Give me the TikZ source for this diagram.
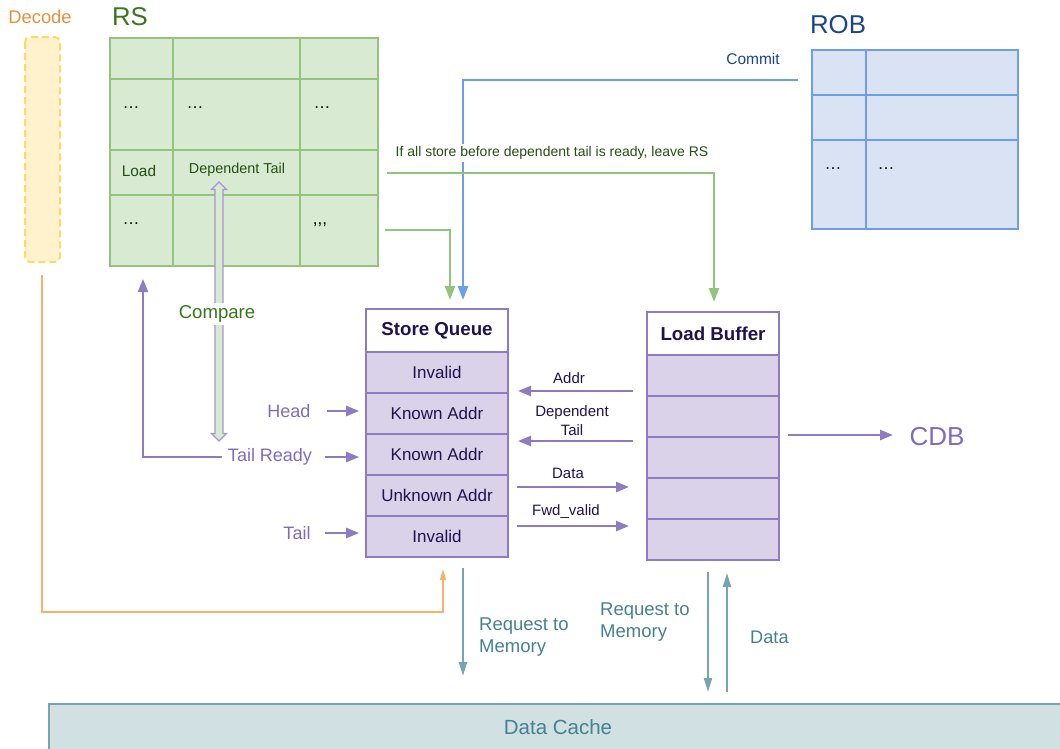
\documentclass[tikz,border=0pt]{standalone}
\usepackage{fontspec}
\setmainfont{Liberation Sans}
\usetikzlibrary{arrows.meta}
\definecolor{pline}{HTML}{8E7CC3}
\definecolor{pfill}{HTML}{D9D2E9}
\definecolor{ptext}{HTML}{20124D}
\definecolor{plabel}{HTML}{7E6BBF}
\definecolor{gfill}{HTML}{D9EAD3}
\definecolor{gline}{HTML}{93C47D}
\definecolor{gtext}{HTML}{274E13}
\definecolor{gtitle}{HTML}{38761D}
\definecolor{bline}{HTML}{6D9EEB}
\definecolor{bfill}{HTML}{DAE3F3}
\definecolor{btext}{HTML}{1C4587}
\definecolor{oline}{HTML}{F6B26B}
\definecolor{otitle}{HTML}{E69138}
\definecolor{ofill}{HTML}{FFF2CC}
\definecolor{oborder}{HTML}{FFD966}
\definecolor{tline}{HTML}{76A5AF}
\definecolor{tfill}{HTML}{D0E0E3}
\definecolor{ttext}{HTML}{45818E}
\tikzset{
  fs/.style={font=\fontsize{#1}{#1}\selectfont},
  sqrow/.style={draw=pline, fill=pfill, line width=1.6pt, minimum width=142pt, minimum height=41pt, inner sep=0pt, text=ptext, fs=17},
  sqhead/.style={draw=pline, fill=white, line width=1.6pt, minimum width=142pt, minimum height=43pt, inner sep=0pt, text=ptext, font=\fontsize{18.7}{18.7}\selectfont\bfseries},
  lbrow/.style={draw=pline, fill=pfill, line width=1.6pt, minimum width=132pt, minimum height=41pt, inner sep=0pt},
  parr/.style={draw=pline, line width=2.5pt, -{Triangle[length=13pt,width=10pt]}},
  garr/.style={draw=gline, line width=2.3pt, -{Triangle[length=14pt,width=10pt]}},
  barr/.style={draw=bline, line width=2.3pt, -{Triangle[length=14pt,width=10pt]}},
  tarr/.style={draw=tline, line width=2.3pt, -{Triangle[length=14pt,width=8pt]}},
  oarr/.style={draw=oline, line width=1.8pt, -{Triangle[length=11pt,width=6pt]}},
  plab/.style={text=plabel, fs=18, inner sep=0pt},
  slab/.style={text=ptext, fs=15, inner sep=0pt},
  dots/.style={anchor=base, fs=17, inner sep=0pt, text=black},
}
\begin{document}
\begin{tikzpicture}[x=1pt,y=-1pt]
\useasboundingbox (0,0) rectangle (1060,748);

% ---------- Decode ----------
\node[text=otitle, fs=18.4, inner sep=0pt] (dectitle) at (40,17) {Decode};
\draw[draw=oborder, fill=ofill, line width=2pt, dash pattern=on 7pt off 4pt, rounded corners=5pt] (25,37) rectangle (60,262);
\coordinate (decout) at (42,275);

% ---------- RS ----------
\node[text=gtitle, fs=25.7, inner sep=0pt] (rstitle) at (130,17) {RS};
\draw[draw=gline, fill=gfill, line width=1.6pt] (110,38) rectangle (378,266);
\draw[draw=gline, line width=1.6pt] (173,38) -- (173,266) (300,38) -- (300,266)
  (110,79) -- (378,79) (110,150) -- (378,150) (110,195) -- (378,195);
\node[dots] (rs21) at (131,108.5) {…};
\node[dots] (rs22) at (195,108.5) {…};
\node[dots] (rs23) at (322,108.5) {…};
\node[text=gtext, fs=15.4, inner sep=0pt] (rsload) at (139,171) {Load};
\node[text=gtext, fs=14.4, inner sep=0pt] (rsdt) at (237,169.5) {Dependent Tail};
\node[dots] (rs41) at (131,224.5) {…};
\node[dots] (rs43) at (320,224.5) {{,}{,}{,}};

% double arrow (compare)
\draw[draw=pline!80, fill=gfill, line width=1.3pt]
  (219,182) -- (226.5,189.5) -- (223,189.5) -- (223,433.5) -- (226.5,433.5) -- (219,441)
  -- (211.5,433.5) -- (215,433.5) -- (215,189.5) -- (211.5,189.5) -- cycle;
\node[text=gtitle, fs=18.6, fill=white, inner sep=3pt] (compare) at (217,314) {Compare};

% ---------- ROB ----------
\node[text=btext, fs=25.8, inner sep=0pt] (robtitle) at (838,25) {ROB};
\draw[draw=bline, fill=bfill, line width=1.6pt] (812,50) rectangle (1018,229);
\draw[draw=bline, line width=1.6pt] (866,50) -- (866,229) (812,95) -- (1018,95) (812,140) -- (1018,140);
\node[dots] (rob31) at (833,169.5) {…};
\node[dots] (rob32) at (886,169.5) {…};
\node[text=btext, fs=15.5, inner sep=0pt] (commit) at (753,59) {Commit};

% ---------- Store Queue ----------
\node[sqhead] (sqh) at (437,330.5) {Store Queue};
\node[sqrow] (sq1) at (437,372.5) {Invalid};
\node[sqrow] (sq2) at (437,413.5) {Known Addr};
\node[sqrow] (sq3) at (437,454.5) {Known Addr};
\node[sqrow] (sq4) at (437,495.5) {Unknown Addr};
\node[sqrow] (sq5) at (437,536.5) {Invalid};

% ---------- Load Buffer ----------
\node[sqhead, minimum width=132pt] (lbh) at (713,333.5) {Load Buffer};
\node[lbrow] (lb1) at (713,375.5) {};
\node[lbrow] (lb2) at (713,416.5) {};
\node[lbrow] (lb3) at (713,457.5) {};
\node[lbrow] (lb4) at (713,498.5) {};
\node[lbrow] (lb5) at (713,539.5) {};

% ---------- commit / RS lines ----------
\coordinate (commitS) at (798,80);
\coordinate (sqin) at (463,300);
\draw[barr] (commitS) -- (463,80) -- (sqin);
\node[text=gtext, fs=14, fill=white, inner sep=2pt] (leavers) at (552,153) {If all store before dependent tail is ready, leave RS};
\coordinate (g1s) at (387,173);
\coordinate (lbin) at (714,302);
\draw[garr] (g1s) -| (lbin);
\coordinate (g2s) at (385,230);
\coordinate (sqin2) at (450,300);
\draw[garr] (g2s) -| (sqin2);

% ---------- labels left of SQ ----------
\node[plab] (head) at (289,411) {Head};
\node[plab] (tready) at (270,457) {Tail Ready};
\node[plab] (tail) at (297,533) {Tail};
\coordinate (headA) at (327,411);
\coordinate (treadyA) at (325,457);
\coordinate (tailA) at (325,533);
\draw[parr, shorten >=6pt] (headA) -- (sq2.west |- headA);
\draw[parr, shorten >=6pt] (treadyA) -- (sq3.west |- treadyA);
\draw[parr, shorten >=6pt] (tailA) -- (sq5.west |- tailA);
\coordinate (trS) at (222,457);
\coordinate (rsret) at (143,279);
\draw[parr, line width=2pt] (trS) -| (rsret);

% ---------- SQ <-> LB signals ----------
\coordinate (addrS) at (633,391);  \coordinate (addrE) at (518,391);
\coordinate (dtS) at (633,441);    \coordinate (dtE) at (518,441);
\coordinate (dataS) at (517,487);  \coordinate (dataE) at (629,487);
\coordinate (fwdS) at (517,526);   \coordinate (fwdE) at (629,526);
\draw[parr] (addrS) -- (addrE);
\draw[parr] (dtS) -- (dtE);
\draw[parr] (dataS) -- (dataE);
\draw[parr] (fwdS) -- (fwdE);
\node[slab] (addrl) at (569,378) {Addr};
\node[slab, align=center, font=\fontsize{15}{19}\selectfont] (dtl) at (572,420.5) {Dependent\\Tail};
\node[slab] (datal) at (568,473) {Data};
\node[slab] (fwdl) at (566,512) {Fwd\_valid};

% ---------- CDB ----------
\coordinate (cdbS) at (788,435);
\node[text=plabel, fs=26, inner sep=0pt] (cdb) at (937,437) {CDB};
\draw[parr] (cdbS) -- (893,435);

% ---------- Decode -> SQ ----------
\coordinate (decin) at (443,569);
\draw[oarr] (decout) |- (443,612) -- (decin);

% ---------- Data Cache ----------
\draw[draw=tline, fill=tfill, line width=1.6pt] (49,704) rectangle (1075,760);
\node[text=ttext, fs=20.5, inner sep=0pt] (dcache) at (558,727) {Data Cache};
\coordinate (sqreqS) at (463,568);
\coordinate (sqreqE) at (463,676);
\draw[tarr] (sqreqS) -- (sqreqE);
\node[text=ttext, align=left, anchor=west, font=\fontsize{18.5}{22}\selectfont, inner sep=0pt] (sqreql) at (479,637) {Request to\\Memory};
\coordinate (lbreqS) at (708,572);
\coordinate (lbreqE) at (708,692);
\draw[tarr] (lbreqS) -- (lbreqE);
\coordinate (lbdataS) at (727,692);
\coordinate (lbdataE) at (727,573);
\draw[tarr] (lbdataS) -- (lbdataE);
\node[text=ttext, align=left, anchor=west, font=\fontsize{18.5}{22}\selectfont, inner sep=0pt] (lbreql) at (600,622) {Request to\\Memory};
\node[text=ttext, anchor=west, fs=18.2, inner sep=0pt] (lbdatal) at (750,637) {Data};
\end{tikzpicture}
\end{document}
